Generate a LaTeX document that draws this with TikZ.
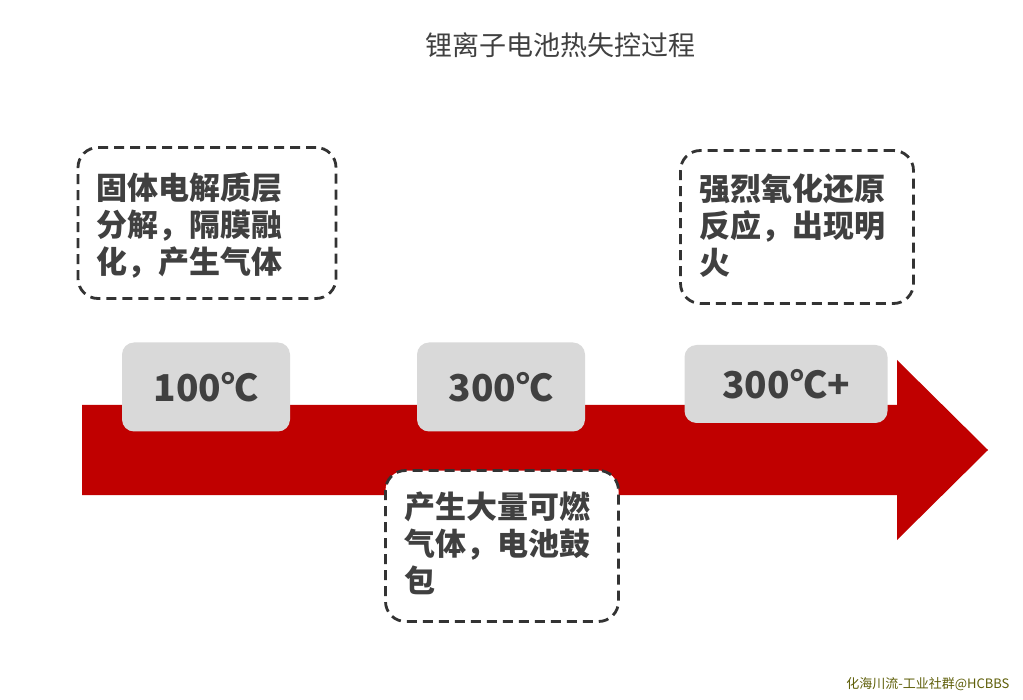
\documentclass[tikz,border=0pt]{standalone}
\usepackage{fontspec}
\setmainfont{Noto Sans CJK SC}
\definecolor{fire}{HTML}{C00000}
\definecolor{tag}{HTML}{D9D9D9}
\definecolor{ink}{HTML}{404040}
\definecolor{dashink}{HTML}{333333}
\definecolor{wm}{HTML}{5E5E08}
\tikzset{
  tempbox/.style={fill=tag, rounded corners=12pt, minimum width=168pt, minimum height=89pt,
    text=ink, font=\fontsize{37}{37}\selectfont\bfseries},
  notebox/.style={draw=dashink, fill=white, line width=2.8pt, dash pattern=on 10pt off 6pt,
    rounded corners=20pt},
  notetext/.style={anchor=north west, inner sep=0pt, align=left, text=ink,
    font=\fontsize{31}{37}\selectfont\bfseries},
}
\begin{document}
\begin{tikzpicture}[x=1pt, y=-1pt]
   \useasboundingbox (0,0) rectangle (1023,700);

   % title
   \node[text=ink, font=\fontsize{27}{27}\selectfont] (title) at (560,45) {锂离子电池热失控过程};

   % the big red arrow
   \fill[fire] (82,405) -- (897,405) -- (897,360) -- (988,450) -- (897,540) -- (897,495) -- (82,495) -- cycle;

   % temperature tags
   \foreach \x/\y/\w/\h/\name/\id in {206/387/168/89/{100℃}/tA, 501/387/168/89/{300℃}/tB, 786/384/203/78/{300℃+}/tC}
      \node[tempbox, minimum width=\w, minimum height=\h] (\id) at (\x,\y) {\name};

   % dashed notes
   \node[notebox, minimum width=258, minimum height=151] (nA) at (207,223) {};
   \node[notebox, minimum width=233, minimum height=153] (nC) at (797,227) {};
   \node[notebox, minimum width=233, minimum height=151] (nB) at (502,546) {};

   \node[notetext] (xA) at (96,172) {固体电解质层\\分解，隔膜融\\化，产生气体};
   \node[notetext] (xC) at (699,174) {强烈氧化还原\\反应，出现明\\火};
   \node[notetext] (xB) at (404,492) {产生大量可燃\\气体，电池鼓\\包};

   % watermark
   \node[anchor=east, text=wm, font=\fontsize{13}{13}\selectfont] (wmark) at (1013,684) {化海川流-工业社群@HCBBS};
\end{tikzpicture}
\end{document}
